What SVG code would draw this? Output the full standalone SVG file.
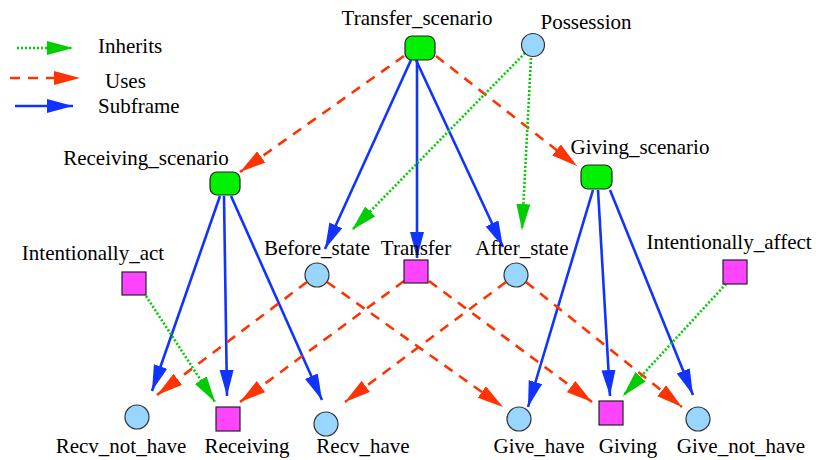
<svg xmlns="http://www.w3.org/2000/svg" width="816" height="460" viewBox="0 0 816 460">
<style>
text{font-family:"Liberation Serif","Times New Roman",serif;font-size:21px;fill:#000;text-anchor:middle}
.lg{text-anchor:start}
.scen{fill:#00f000;stroke:#222;stroke-width:1.2}
.frame{fill:#ff44ff;stroke:#222;stroke-width:1.2}
.fe{fill:#99d6ff;stroke:#333;stroke-width:1.2}
.sub{stroke:#1133ff;stroke-width:2.6;fill:none;marker-end:url(#ab)}
.use{stroke:#ff3300;stroke-width:2.6;fill:none;stroke-dasharray:10 8;marker-end:url(#ar)}
.inh{stroke:#00cc00;stroke-width:2.6;fill:none;stroke-dasharray:2 2;marker-end:url(#ag)}
</style>
<defs>
<marker id="ab" markerUnits="userSpaceOnUse" markerWidth="27" markerHeight="15" refX="26" refY="7" orient="auto"><path d="M0,0 L26,7 L0,14 z" fill="#1133ff"/></marker>
<marker id="ar" markerUnits="userSpaceOnUse" markerWidth="27" markerHeight="15" refX="26" refY="7" orient="auto"><path d="M0,0 L26,7 L0,14 z" fill="#ff3300"/></marker>
<marker id="ag" markerUnits="userSpaceOnUse" markerWidth="27" markerHeight="15" refX="26" refY="7" orient="auto"><path d="M0,0 L26,7 L0,14 z" fill="#00cc00"/></marker>
</defs>
<rect width="816" height="460" fill="#fff"/>
<g id="legend">
<line class="inh" x1="17" y1="48" x2="73" y2="48"/>
<text class="lg" x="98" y="53">Inherits</text>
<line class="use" x1="10" y1="78" x2="80" y2="78"/>
<text class="lg" x="105" y="88">Uses</text>
<line class="sub" x1="15" y1="106" x2="73" y2="106"/>
<text class="lg" x="98" y="113">Subframe</text>
</g>
<g id="connectors">
<line class="sub" x1="411" y1="60" x2="325" y2="249"/>
<line class="sub" x1="417" y1="60" x2="417" y2="258"/>
<line class="sub" x1="416" y1="60" x2="503" y2="247"/>
<line class="sub" x1="220" y1="196" x2="152" y2="391"/>
<line class="sub" x1="224" y1="196" x2="227" y2="396"/>
<line class="sub" x1="231" y1="196" x2="322" y2="400"/>
<line class="sub" x1="593" y1="190" x2="528" y2="407"/>
<line class="sub" x1="598" y1="190" x2="610" y2="396"/>
<line class="sub" x1="610" y1="190" x2="693" y2="395"/>
<line class="use" x1="404" y1="56" x2="240" y2="172"/>
<line class="use" x1="436" y1="56" x2="577" y2="166"/>
<line class="use" x1="307" y1="282" x2="157" y2="395"/>
<line class="use" x1="327" y1="282" x2="503" y2="407"/>
<line class="use" x1="404" y1="281" x2="240" y2="402"/>
<line class="use" x1="429" y1="281" x2="592" y2="402"/>
<line class="use" x1="506" y1="282" x2="345" y2="402"/>
<line class="use" x1="526" y1="282" x2="682" y2="407"/>
<line class="inh" x1="525" y1="53" x2="352" y2="230"/>
<line class="inh" x1="531" y1="58" x2="522" y2="230"/>
<line class="inh" x1="146" y1="296" x2="215" y2="402"/>
<line class="inh" x1="726" y1="284" x2="623" y2="396"/>
</g>
<g id="Transfer_scenario"><rect class="scen" x="405" y="36" width="30" height="24" rx="7"/><text x="417" y="25">Transfer_scenario</text></g>
<g id="Possession"><circle class="fe" cx="533" cy="45" r="11.5"/><text x="586" y="29">Possession</text></g>
<g id="Receiving_scenario"><rect class="scen" x="210" y="172" width="30" height="23" rx="7"/><text x="146" y="165">Receiving_scenario</text></g>
<g id="Giving_scenario"><rect class="scen" x="581" y="165" width="31" height="24" rx="7"/><text x="640" y="154">Giving_scenario</text></g>
<g id="Intentionally_act"><rect class="frame" x="122" y="272" width="24" height="23"/><text x="93" y="260">Intentionally_act</text></g>
<g id="Before_state"><circle class="fe" cx="317" cy="275" r="12"/><text x="317" y="255">Before_state</text></g>
<g id="Transfer"><rect class="frame" x="404" y="260" width="24" height="23"/><text x="416" y="255">Transfer</text></g>
<g id="After_state"><circle class="fe" cx="516" cy="275" r="12"/><text x="522" y="255">After_state</text></g>
<g id="Intentionally_affect"><rect class="frame" x="723" y="260" width="24" height="24"/><text x="729" y="249">Intentionally_affect</text></g>
<g id="Recv_not_have"><circle class="fe" cx="137" cy="417" r="12"/><text x="121" y="453">Recv_not_have</text></g>
<g id="Receiving"><rect class="frame" x="216" y="407" width="24" height="24"/><text x="247" y="453">Receiving</text></g>
<g id="Recv_have"><circle class="fe" cx="326" cy="424" r="12"/><text x="363" y="453">Recv_have</text></g>
<g id="Give_have"><circle class="fe" cx="519" cy="419" r="12"/><text x="539" y="453">Give_have</text></g>
<g id="Giving"><rect class="frame" x="599" y="401" width="24" height="24"/><text x="628" y="453">Giving</text></g>
<g id="Give_not_have"><circle class="fe" cx="698" cy="419" r="12"/><text x="741" y="453">Give_not_have</text></g>
</svg>
